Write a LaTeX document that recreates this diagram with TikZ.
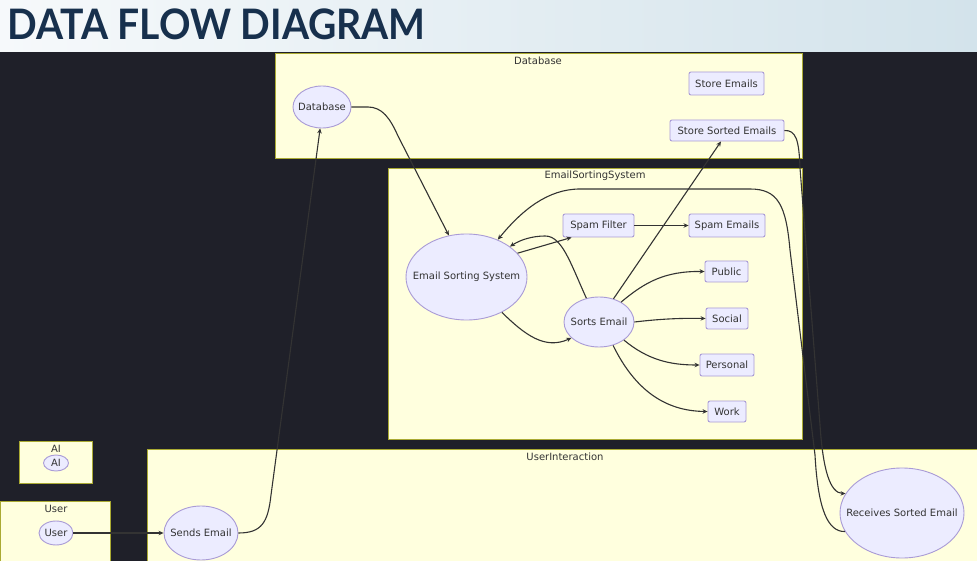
\documentclass[tikz,border=0pt]{standalone}
\usepackage{fontspec}
\setmainfont{DejaVu Sans}
\newfontfamily\titlefont{Lato}
\usetikzlibrary{arrows.meta,shapes.geometric,calc}
\definecolor{bgdark}{HTML}{1F2029}
\definecolor{clfill}{HTML}{FFFFDE}
\definecolor{clline}{HTML}{AAAA33}
\definecolor{ndfill}{HTML}{ECECFF}
\definecolor{ndline}{HTML}{A99BD6}
\definecolor{txt}{HTML}{333333}
\definecolor{edgec}{HTML}{333333}
\definecolor{titlec}{HTML}{17304D}
\definecolor{barleft}{HTML}{F6F9FB}
\definecolor{barright}{HTML}{D3E3EB}
\tikzset{
  cluster/.style={draw=clline, fill=clfill, line width=0.9pt},
  lbl/.style={font=\fontsize{10}{11}\selectfont, text=txt, inner sep=0pt},
  proc/.style={ellipse, draw=ndline, fill=ndfill, line width=0.9pt, inner sep=0pt,
    label={[lbl]center:#1}},
  store/.style={rectangle, rounded corners=2pt, draw=ndline, fill=ndfill, line width=0.9pt,
    inner sep=0pt, font=\fontsize{10}{11}\selectfont, text=txt},
  flow/.style={draw=edgec, line width=1.1pt, -{Stealth[length=5pt,width=4.5pt]}},
}
\begin{document}
\begin{tikzpicture}[x=1pt,y=-1pt]
\useasboundingbox (0,0) rectangle (977,561);
\clip (0,0) rectangle (977,561);
% backgrounds
\fill[bgdark] (0,52) rectangle (977,561);
\shade[left color=barleft, right color=barright] (0,0) rectangle (977,52);
\node[anchor=west, inner sep=0pt, text=titlec, xscale=0.93, font=\titlefont\bfseries\fontsize{42}{42}\selectfont] (title) at (7,24) {DATA FLOW DIAGRAM};
% clusters
\draw[cluster] (275,53.5) rectangle (802,158);
\draw[cluster] (388,168) rectangle (802,439);
\draw[cluster] (19,441) rectangle (92,483);
\draw[cluster] (0.5,501) rectangle (110,570);
\draw[cluster] (147,449) rectangle (985,570);
\node[lbl] (cDB) at (538,61) {Database};
\node[lbl] (cESS) at (595,175.5) {EmailSortingSystem};
\node[lbl] (cUI) at (565,456.5) {UserInteraction};
\node[lbl] (cAI) at (56,448.5) {AI};
\node[lbl] (cUser) at (56,508.5) {User};
% nodes
\node[proc=Database, minimum width=58pt, minimum height=42pt] (DB) at (322,107) {};
\node[store, minimum width=75pt, minimum height=23pt] (StE) at (726.5,83.5) {Store Emails};
\node[store, minimum width=114pt, minimum height=21pt] (SSE) at (727,130.5) {Store Sorted Emails};
\node[proc=Email Sorting System, minimum width=121pt, minimum height=86pt] (ESS) at (466.5,277) {};
\node[store, minimum width=71pt, minimum height=23pt] (SF) at (598.5,225.5) {Spam Filter};
\node[store, minimum width=76pt, minimum height=23pt] (SpE) at (727,225.5) {Spam Emails};
\node[proc=Sorts Email, minimum width=70pt, minimum height=50pt] (SortE) at (599,322) {};
\node[store, minimum width=43pt, minimum height=21pt] (Pub) at (726.5,271.5) {Public};
\node[store, minimum width=42pt, minimum height=21pt] (Soc) at (727,318.5) {Social};
\node[store, minimum width=54pt, minimum height=22pt] (Per) at (727,365) {Personal};
\node[store, minimum width=38pt, minimum height=21pt] (Work) at (727,411.5) {Work};
\node[proc=AI, minimum width=25pt, minimum height=16pt] (AIn) at (56,463) {};
\node[proc=User, minimum width=34pt, minimum height=24pt] (UserN) at (56,533) {};
\node[proc=Sends Email, minimum width=74pt, minimum height=54pt] (Sends) at (201,533) {};
\node[proc=Receives Sorted Email, minimum width=124pt, minimum height=90pt] (Recv) at (902,513) {};
% edges
\draw[flow] (UserN.east) -- (Sends.west);
\draw[flow] (Sends.east) .. controls (262,533) and (268,522) .. (271,495) -- (DB.265);
\draw[flow] (DB.east) -- (368,107) .. controls (382,107) and (390,118) .. (398,136) -- (ESS.113);
\draw[flow] (ESS.25) -- ($(SF.south west)+(9,0)$);
\draw[flow] (ESS.-45) .. controls (525,335) and (545,350) .. (SortE.210);
\draw[flow] (SortE.118) .. controls (570,262) and (562,236) .. (545,236) .. controls (532,236) and (520,240) .. (ESS.35);
\draw[flow] (SF.east) -- (SpE.west);
\draw[flow] (SortE.42) .. controls (645,282) and (665,271) .. (Pub.west);
\draw[flow] (SortE.east) .. controls (660,319) and (680,318) .. (Soc.west);
\draw[flow] (SortE.-36) .. controls (648,360) and (670,365) .. (Per.west);
\draw[flow] (SortE.-59) .. controls (635,390) and (665,411) .. (Work.west);
\draw[flow] (SortE.58) -- ($(SSE.south)+(-6,0)$);
\draw[flow] (SSE.east) .. controls (796,130) and (799,140) .. (800,168) -- (820,425) .. controls (823,470) and (830,493) .. (Recv.161);
\draw[flow] (Recv.198) .. controls (828,532) and (818,510) .. (815,455) -- (790,250) .. controls (786,205) and (778,189) .. (750,189) -- (580,189) .. controls (548,189) and (522,210) .. (ESS.50);
\end{tikzpicture}
\end{document}
